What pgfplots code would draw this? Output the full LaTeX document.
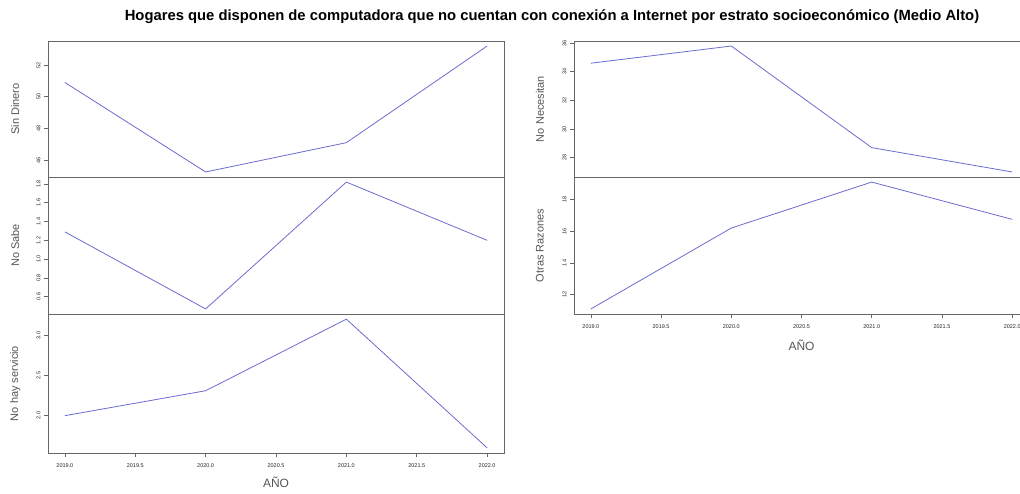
\documentclass[border=0pt]{standalone}
\usepackage{pgfplots}
\pgfplotsset{compat=1.18}
\usepackage{fontspec}
\setmainfont{Liberation Sans}
\definecolor{linec}{HTML}{6B6BD0}
\definecolor{framec}{HTML}{666666}
\definecolor{labc}{HTML}{555555}
\pgfplotsset{
  panel/.style={
    scale only axis, width=456pt, anchor=south west,
    xmin=2018.88, xmax=2022.12,
    enlarge y limits=0.04,
    axis line style={draw=framec, line width=0.9pt},
    tick style={draw=framec, line width=0.6pt, major tick length=4pt},
    tick align=outside, ytick pos=left, xtick pos=bottom,
    /pgf/number format/assume math mode=true,
    /pgf/number format/1000 sep={},
    yticklabel style={rotate=90, anchor=south, font=\fontsize{5.5}{5.5}\selectfont, text=black!85, inner sep=3.5pt},
    xticklabel style={font=\fontsize{5.5}{5.5}\selectfont, text=black!85, yshift=-3pt},
    xtick={2019,2019.5,2020,2020.5,2021,2021.5,2022},
    xticklabel={\pgfmathprintnumber[fixed,fixed zerofill,precision=1]{\tick}},
    ylabel style={font=\fontsize{11}{11}\selectfont, text=labc, anchor=center},
    xlabel style={font=\fontsize{12}{12}\selectfont, text=labc},
  },
  nox/.style={xticklabels={}, xtick style={draw=none}},
  ln/.style={color=linec, line width=0.8pt, mark=none},
}
\begin{document}
\begin{tikzpicture}
\useasboundingbox (0pt,0pt) rectangle (1020pt,493pt);
\node[font=\bfseries\fontsize{14.8}{15}\selectfont] at (552pt,476pt) {Hogares que disponen de computadora que no cuentan con conexión a Internet por estrato socioeconómico (Medio Alto)};

% Left column
\begin{axis}[panel, nox, at={(48pt,316pt)}, height=136pt,
  ytick={46,48,50,52}, yticklabel={\pgfmathprintnumber[fixed,precision=0]{\tick}},
  ylabel={Sin Dinero}, ylabel style={at={(axis description cs:-0.072,0.5)}}]
\addplot[ln] coordinates {(2019,50.9) (2020,45.25) (2021,47.1) (2022,53.2)};
\end{axis}

\begin{axis}[panel, nox, at={(48pt,179pt)}, height=137pt,
  ytick={0.6,0.8,1.0,1.2,1.4,1.6,1.8}, yticklabel={\pgfmathprintnumber[fixed,fixed zerofill,precision=1]{\tick}},
  ylabel={No Sabe}, ylabel style={at={(axis description cs:-0.072,0.5)}}]
\addplot[ln] coordinates {(2019,1.29) (2020,0.47) (2021,1.82) (2022,1.2)};
\end{axis}

\begin{axis}[panel, at={(48pt,40pt)}, height=139pt,
  ytick={2.0,2.5,3.0}, yticklabel={\pgfmathprintnumber[fixed,fixed zerofill,precision=1]{\tick}},
  ylabel={No hay servicio}, ylabel style={at={(axis description cs:-0.072,0.5)}},
  xlabel={AÑO}, xlabel style={at={(axis description cs:0.5,0)}, yshift=-20pt}]
\addplot[ln] coordinates {(2019,2.0) (2020,2.31) (2021,3.2) (2022,1.6)};
\end{axis}

% Right column
\begin{axis}[panel, nox, at={(574pt,316pt)}, height=136pt, width=455pt,
  ytick={28,30,32,34,36}, yticklabel={\pgfmathprintnumber[fixed,precision=0]{\tick}},
  ylabel={No Necesitan}, ylabel style={at={(axis description cs:-0.075,0.5)}}]
\addplot[ln] coordinates {(2019,34.6) (2020,35.8) (2021,28.7) (2022,27.0)};
\end{axis}

\begin{axis}[panel, at={(574pt,179pt)}, height=137pt, width=455pt,
  ytick={12,14,16,18}, yticklabel={\pgfmathprintnumber[fixed,precision=0]{\tick}},
  ylabel={Otras Razones}, ylabel style={at={(axis description cs:-0.075,0.5)}},
  xlabel={AÑO}, xlabel style={at={(axis description cs:0.5,0)}, yshift=-22pt}]
\addplot[ln] coordinates {(2019,11.1) (2020,16.2) (2021,19.1) (2022,16.75)};
\end{axis}
\end{tikzpicture}
\end{document}
